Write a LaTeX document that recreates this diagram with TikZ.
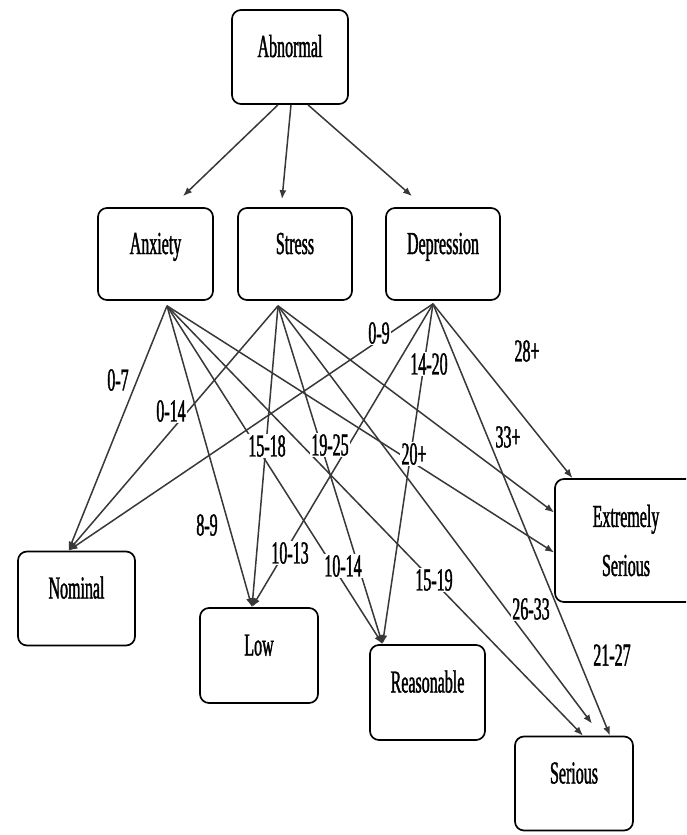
\documentclass[tikz,border=0pt]{standalone}
\usepackage{fontspec}
\setmainfont{Liberation Serif}[FakeStretch=0.5,FakeBold=1.2]
\usetikzlibrary{arrows.meta}
\begin{document}
\begin{tikzpicture}[x=1pt,y=-1pt,
  boxbase/.style={draw=black, line width=1.7pt, rounded corners=9pt, inner sep=0pt, font=\fontsize{32}{49}\selectfont},
  box/.style={boxbase, text height=22pt, text depth=22pt},
  lbl/.style={font=\fontsize{32}{36}\selectfont, fill=white, inner sep=1.5pt},
  conn/.style={draw=black!78, line width=1.5pt, -{Latex[length=9pt,width=7pt]}},
]
\useasboundingbox (0,0) rectangle (686,835);
\fill[white] (0,0) rectangle (686,835);
\clip (0,0) rectangle (686,835);

% boxes
\node[box, minimum width=116pt, minimum height=94pt] (abn) at (290,57) {Abnormal};
\node[box, minimum width=115pt, minimum height=92pt] (anx) at (155.5,254) {Anxiety};
\node[box, minimum width=114pt, minimum height=92pt] (str) at (295,254) {Stress};
\node[box, minimum width=114pt, minimum height=92pt] (dep) at (443,254) {Depression};
\node[box, minimum width=117pt, minimum height=94pt] (nom) at (76.5,598.5) {Nominal};
\node[box, minimum width=118pt, minimum height=95pt] (low) at (259,655.5) {Low};
\node[box, minimum width=115pt, minimum height=95pt] (rea) at (427.5,692.5) {Reasonable};
\node[box, minimum width=118pt, minimum height=94pt] (ser) at (574,783.5) {Serious};
\node[boxbase, align=center, minimum width=142pt, minimum height=123pt] (es) at (626,540.5) {Extremely\\Serious};

% top arrows
\draw[conn] ([xshift=-12pt]abn.south) -- ([xshift=27.5pt,yshift=11pt]anx.north);
\draw[conn] ([xshift=1pt]abn.south) -- ([xshift=-13pt,yshift=8pt]str.north);
\draw[conn] ([xshift=18pt]abn.south) -- ([xshift=-31pt,yshift=11pt]dep.north);

\coordinate (A) at ([xshift=11.5pt,yshift=-5pt]anx.south);
\coordinate (S) at ([xshift=-17pt,yshift=-5pt]str.south);
\coordinate (D) at ([xshift=-10pt,yshift=-3pt]dep.south);

% Anxiety
\draw[conn] (A) -- ([xshift=-8pt]nom.north);
\draw[conn] (A) -- ([xshift=-7pt]low.north);
\draw[conn] (A) -- ([xshift=-45pt]rea.north);
\draw[conn] (A) -- ([xshift=9pt]ser.north);
\draw[conn] (A) -- ([yshift=-12pt]es.west);
% Stress
\draw[conn] (S) -- ([xshift=-8pt]nom.north);
\draw[conn] (S) -- ([xshift=-7pt]low.north);
\draw[conn] (S) -- ([xshift=-45pt]rea.north);
\draw[conn] (S) -- ([xshift=18pt,yshift=12pt]ser.north);
\draw[conn] (S) -- ([yshift=28pt]es.west);
% Depression
\draw[conn] (D) -- ([xshift=-8pt]nom.north);
\draw[conn] (D) -- ([xshift=-7pt]low.north);
\draw[conn] (D) -- ([xshift=-45pt]rea.north);
\draw[conn] (D) -- ([xshift=36pt]ser.north);
\draw[conn] (D) -- ([xshift=-53.5pt]es.north);

% labels
\node[lbl] (l07) at (118,380) {0-7};
\node[lbl] (l014) at (171,411) {0-14};
\node[lbl] (l1518) at (267,446) {15-18};
\node[lbl] (l1925) at (330,445) {19-25};
\node[lbl] (l89) at (207,525) {8-9};
\node[lbl] (l1013) at (290,553) {10-13};
\node[lbl] (l1014) at (343,566) {10-14};
\node[lbl] (l1519) at (434,580) {15-19};
\node[lbl] (l2633) at (531,609) {26-33};
\node[lbl] (l2127) at (612,655) {21-27};
\node[lbl] (l09) at (379,333) {0-9};
\node[lbl] (l1420) at (429,364) {14-20};
\node[lbl] (l28) at (527,351) {28+};
\node[lbl] (l33) at (508,437) {33+};
\node[lbl] (l20) at (414,454) {20+};
\end{tikzpicture}
\end{document}
